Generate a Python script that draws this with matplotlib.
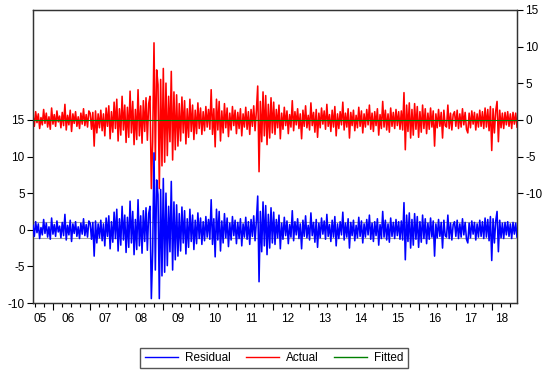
import numpy as np
import matplotlib
matplotlib.use("Agg")
import matplotlib.pyplot as plt
from matplotlib.lines import Line2D

plt.rcParams['font.family'] = ['Liberation Sans', 'DejaVu Sans']

# ---- data ----
resid_a = [0.6,-0.9,1.1,-0.4,0.8,-1.2,0.3,-0.7,1.4,-0.5,
           0.9,-1.0,0.4,-1.3,1.6,-0.6,0.7,-0.9,1.2,-0.3,
           0.5,-1.1,1.0,-0.8,2.1,-1.4,0.6,-0.7,1.3,-1.6,
           0.8,-0.5,1.1,-0.9,0.4,-1.2,0.9,-0.6,1.5,-0.8,
           0.7,-1.0,1.2]
resid_b = [0.9,-1.3,1.0,-3.6,1.2,-1.8,0.8,-1.1]
resid_c = [1.3,-1.5,0.8,-2.2,1.6,-0.9,1.9,-2.6,1.1,-1.7,
           2.4,-1.2,2.8,-2.9,1.5,-2.1,3.2,-1.4,2.0,-3.1,
           1.7,-2.4,3.9,-1.8,2.5,-3.4,1.4,-2.7,4.1,-2.2,
           1.9,-3.2,2.6,-1.6,3.0,-2.8,2.2]
resid_d = [3.2,-9.4,-3.0,10.5,-5.5,6.8,4.8,-9.4,5.5,-6.3,
           7.0,-5.8,5.0,-4.9,3.2,-3.0,6.6,-5.5,3.8,-4.1]
resid_e = [3.4,-3.6,2.2,-2.9,3.1,-1.8,2.6,-3.3,1.5,-2.4,
           2.8,-1.6,2.0,-2.7,1.3,-1.9,2.3,-1.2,1.6,-2.0,
           1.1,-1.5,1.8,-1.0,1.4,-1.3]
resid_f = [4.1,-2.0,1.5,-3.7,2.8,-1.4,2.5,-2.9,1.2,-1.8,
           2.2,-1.1,1.6,-2.3,0.9,-1.4,1.8,-0.8,1.3,-1.9,
           1.0,-1.2,1.5,-2.2,0.8,-1.0,1.7,-1.3,1.1,-2.0,
           1.4,-0.9,1.9,-1.5,1.2]
resid_g = [4.6,-7.1,2.5,-3.0,3.8,-2.2,3.3,-3.4,2.1,-2.5,
           3.0,-1.8,2.4,-2.0]
resid_h = [1.4,-1.1,2.0,-2.6,0.9,-1.3,1.7,-0.8,1.2,-1.9,
           0.7,-1.0,2.6,-1.5,1.1,-0.7,1.5,-1.2,0.8,-2.6,
           1.3,-0.9,1.9,-1.1,0.6,-1.4,2.3,-0.8,1.0,-1.7,
           1.4,-2.4,0.9,-1.1,1.6,-0.6,1.2,-1.3,2.1,-0.9,
           0.7,-1.6,1.3,-1.0,1.8,-2.2,0.8,-1.2,1.1,-0.7,
           2.4,-1.4,0.9,-1.0,1.5,-2.5,1.0,-0.8,1.3,-1.5,
           0.6,-1.1,1.7,-0.9,1.2,-1.8,0.8,-1.0,1.4,-0.7,
           2.0,-1.3,0.9,-1.6,1.1,-0.8,1.5,-2.1,0.7,-1.2,
           2.5,-1.0,1.3,-1.4,0.8,-1.7,1.6,-0.9,1.0,-1.2,
           1.4,-0.8,1.1,-1.3]
resid_i = [1.2,-1.4,3.7,-4.1,2.0,-1.6,2.3,-2.5,1.4,-2.1,
           2.2,-1.3,1.8,-2.4,1.1,-1.7,2.0,-1.2,1.5,-1.9,
           0.9,-1.3,1.6,-1.0,1.2,-3.6,0.8,-1.1,1.4,-0.9,
           1.0,-2.5,1.3,-0.8,-1.0,2.0,-1.2,0.9,-1.4,0.7,
           1.1,-0.9,1.3,-1.2,0.8,-1.0,1.5,-0.7,1.0,-1.3,
           -1.8,0.9,-1.1,1.2,-0.6,1.0,-1.4,0.8,-1.0,1.3,
           -0.9,1.1,-1.2,1.6,-1.0,1.4,-1.5,1.8,-4.2,1.5,
           -1.8,1.2,2.5,-3.0,1.3,-1.1,0.9,-1.2,1.0,-0.7,
           1.1,-0.9,0.8,-1.2,1.0,-0.6,0.9,-1.0]
residual = np.array(resid_a + resid_b + resid_c + resid_d + resid_e +
                    resid_f + resid_g + resid_h + resid_i)
fitted_level = 0.02
fitted = np.full(residual.size, fitted_level)
actual = residual + fitted

start_year, end_year = 2005.454, 2018.678
t = np.linspace(start_year, end_year, residual.size)
year_labels = ['05','06','07','08','09','10','11','12','13','14','15','16','17','18']
first_year = 2005
se_band = 1.1

# ---- figure ----
fig = plt.figure(figsize=(5.5, 3.73), dpi=100)
ax = fig.add_axes([33/550, 1-303/373, 484/550, 293/373])
ax2 = ax.twinx()

ax.set_xlim(start_year, end_year)
ax.set_ylim(-10, 30)
ax2.set_ylim(-25, 15)

ax.axhline(se_band, color='#a8a8a8', lw=0.8, zorder=1)
ax.axhline(-se_band, color='#a8a8a8', lw=0.8, zorder=1)

ax2.plot(t, actual, color='#ff0000', lw=1.15, zorder=2)
ax2.plot(t, fitted, color='#008000', lw=0.8, zorder=4)
ax.plot(t, residual, color='#0000ff', lw=1.15, zorder=3)
ax.set_zorder(ax2.get_zorder() + 1)
ax.patch.set_visible(False)

fs = 8.5
ax.set_yticks([-10, -5, 0, 5, 10, 15])
ax.set_yticklabels(['-10', '-5', '0', '5', '10', '15'], fontsize=fs)
ax2.set_yticks([-10, -5, 0, 5, 10, 15])
ax2.set_yticklabels(['-10', '-5', '0', '5', '10', '15'], fontsize=fs)
ax.tick_params(axis='y', direction='out', length=4, width=0.8, pad=2)
ax2.tick_params(axis='y', direction='out', length=4, width=0.8, pad=2)

years = np.arange(first_year + 1, first_year + len(year_labels))
quarters = [y + q for y in range(first_year, first_year + len(year_labels)) for q in (0.25, 0.5, 0.75)
            if start_year <= y + q <= end_year]
ax.set_xticks(years)
ax.set_xticklabels([])
ax.set_xticks(quarters, minor=True)
ax.tick_params(axis='x', which='major', direction='out', length=5, width=0.8)
ax.tick_params(axis='x', which='minor', direction='out', length=3, width=0.8)
ax2.tick_params(axis='x', which='both', length=0)

for i, lab in enumerate(year_labels):
    y0 = max(first_year + i, start_year)
    y1 = min(first_year + i + 1, end_year)
    ax.text((y0 + y1) / 2 - 0.08, -0.035, lab, transform=ax.get_xaxis_transform(),
            ha='center', va='top', fontsize=fs)

for a in (ax, ax2):
    for s in a.spines.values():
        s.set_color('#333333')
        s.set_linewidth(0.9)

handles = [Line2D([], [], color='#0000ff', lw=1),
           Line2D([], [], color='#ff0000', lw=1),
           Line2D([], [], color='#008000', lw=1)]
leg = fig.legend(handles, ['Residual', 'Actual', 'Fitted'], loc='center',
                 bbox_to_anchor=(274/550, 1-358/373), ncol=3, fontsize=fs,
                 frameon=True, fancybox=False, handlelength=2.8,
                 columnspacing=1.3, handletextpad=0.6, borderpad=0.35,
                 framealpha=1)
leg.get_frame().set_edgecolor('#555555')
leg.get_frame().set_linewidth(1.0)

fig.savefig('out.png', dpi=100)
